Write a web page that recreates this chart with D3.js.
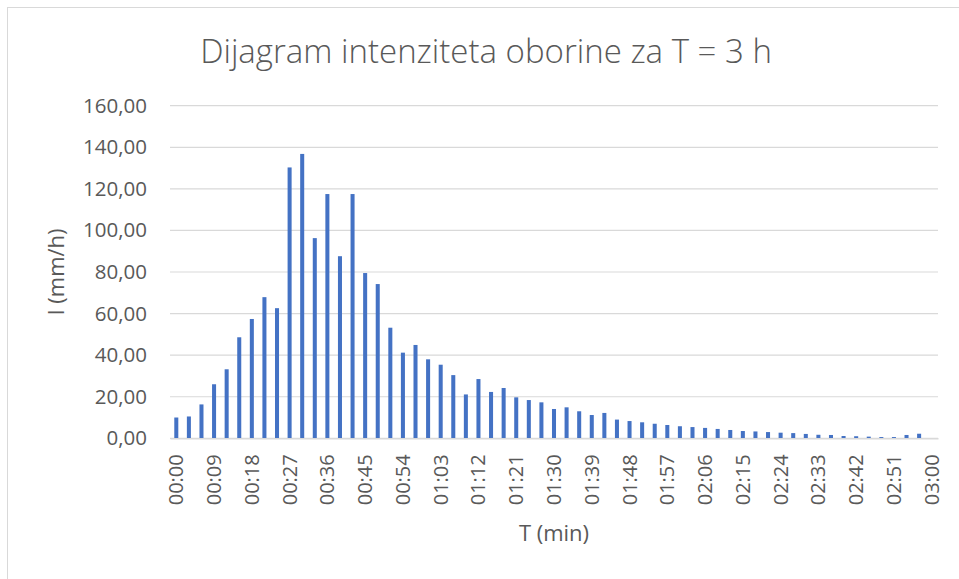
<!DOCTYPE html>
<html lang="hr">
<head>
<meta charset="UTF-8">
<title>Dijagram intenziteta oborine</title>
<script src="https://d3js.org/d3.v7.min.js"></script>
<style>
body { margin: 0; background: #fff; }
text { font-family: "Open Sans", sans-serif; fill: #595959; }
</style>
</head>
<body>
<div id="chart"></div>
<script>
// vremena (svake 3 min) i intenziteti I (mm/h), ocitano sa slike
var vremena = [];
for (var m = 0; m <= 180; m += 3) {
  vremena.push(d3.format("02")(Math.floor(m / 60)) + ":" + d3.format("02")(m % 60));
}
var intenziteti = [
  10.0, 10.5, 16.3, 26.0, 33.2, 48.6, 57.4, 67.9, 62.6, 130.3,
  136.8, 96.3, 117.5, 87.6, 117.5, 79.5, 74.2, 53.2, 41.2, 44.9,
  38.0, 35.4, 30.4, 21.1, 28.5, 22.3, 24.2, 19.7, 18.4, 17.3,
  14.1, 14.9, 13.0, 11.2, 12.2, 9.0, 8.3, 7.7, 7.0, 6.4,
  5.8, 5.4, 5.0, 4.5, 4.0, 3.5, 3.3, 3.0, 2.7, 2.5,
  2.1, 1.7, 1.6, 1.1, 1.0, 0.8, 0.6, 0.6, 1.6, 2.2,
  null
];
var yTicks = [0, 20, 40, 60, 80, 100, 120, 140, 160];
var naslov = "Dijagram intenziteta oborine za T = 3 h";
var xNaslov = "T (min)";
var yNaslov = "I (mm/h)";

var W = 959, H = 579;
var plot = {left: 170, right: 938, top: 105.7, bottom: 438.3};

var svg = d3.select("#chart").append("svg")
  .attr("width", W)
  .attr("height", H);

// okvir grafikona
svg.append("rect")
  .attr("x", 7.5).attr("y", 7.5)
  .attr("width", W + 20).attr("height", H + 20)
  .attr("fill", "#fff")
  .attr("stroke", "#d9d9d9");

var data = vremena.map(function(t, i) { return {t: t, v: intenziteti[i]}; });

var x = d3.scaleBand()
  .domain(vremena)
  .range([plot.left, plot.right])
  .paddingInner(0.68)
  .paddingOuter(0.34);

var y = d3.scaleLinear()
  .domain([0, 160])
  .range([plot.bottom, plot.top]);

// mreza
svg.append("g")
  .selectAll("line")
  .data(yTicks)
  .enter().append("line")
    .attr("x1", plot.left).attr("x2", plot.right)
    .attr("y1", function(d) { return y(d); })
    .attr("y2", function(d) { return y(d); })
    .attr("stroke", "#d9d9d9")
    .attr("stroke-width", 1.2);

// y os
var fmt = function(d) { return d3.format(".2f")(d).replace(".", ","); };
svg.append("g")
  .attr("transform", "translate(" + (plot.left - 23) + ",0)")
  .call(d3.axisLeft(y).tickValues(yTicks).tickFormat(fmt).tickSize(0).tickPadding(0))
  .call(function(g) { g.select(".domain").remove(); })
  .selectAll("text")
    .style("font-size", "20.5px")
    .attr("fill", "#595959");

// stupci
svg.append("g")
  .selectAll("rect")
  .data(data.filter(function(d) { return d.v != null; }))
  .enter().append("rect")
    .attr("x", function(d) { return x(d.t); })
    .attr("y", function(d) { return y(d.v); })
    .attr("width", x.bandwidth())
    .attr("height", function(d) { return y(0) - y(d.v); })
    .attr("fill", "#4472c4");

// x os
var xAxis = svg.append("g")
  .attr("transform", "translate(0," + plot.bottom + ")")
  .call(d3.axisBottom(x)
    .tickValues(vremena.filter(function(d, i) { return i % 3 === 0; }))
    .tickSize(0));
xAxis.select(".domain")
  .attr("stroke", "#d9d9d9")
  .attr("stroke-width", 1.5);
xAxis.selectAll("text")
  .style("font-size", "20px")
  .attr("fill", "#595959")
  .style("text-anchor", "end")
  .attr("transform", "rotate(-90)")
  .attr("x", -16)
  .attr("y", 0)
  .attr("dy", "0.35em");

// naslovi
svg.append("text")
  .attr("x", 486).attr("y", 63)
  .attr("text-anchor", "middle")
  .style("font-size", "33px")
  .style("font-weight", 300)
  .text(naslov);

svg.append("text")
  .attr("x", 554).attr("y", 541)
  .attr("text-anchor", "middle")
  .style("font-size", "22px")
  .text(xNaslov);

svg.append("text")
  .attr("transform", "translate(64,272) rotate(-90)")
  .attr("text-anchor", "middle")
  .style("font-size", "22px")
  .text(yNaslov);
</script>
</body>
</html>
